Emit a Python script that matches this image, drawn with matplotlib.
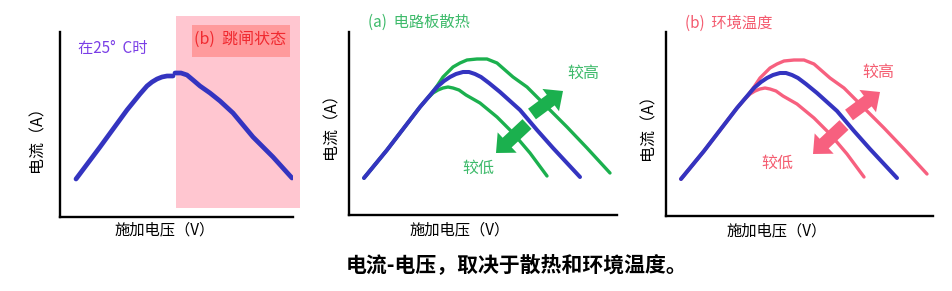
import matplotlib
matplotlib.use("Agg")
import matplotlib.pyplot as plt
from matplotlib.patches import Rectangle, FancyArrowPatch

plt.rcParams['font.family'] = ['Noto Sans CJK SC', 'DejaVu Sans']

# ---- data (arbitrary units: voltage along x, current along y) ----
# panel 1: single I-V curve at 25 °C, split into normal and tripping regions
v_normal = [16, 40, 67, 80, 87, 92, 97, 102, 107, 113]
i_normal = [38, 70, 107, 123, 131, 135, 138, 140, 141, 141]
v_trip = [115, 121, 127, 133, 140, 150, 160, 173, 193, 213, 232]
i_trip = [144, 144, 142, 137, 131, 124, 116, 104, 80, 60, 39]
trip_region = (116, 240)          # voltage span of the tripping state

# panels 2 and 3: reference curve plus lower / higher variants
v_ref = [15, 38, 71, 88, 95, 101, 107, 114, 120, 126, 132, 140, 151, 171, 188, 204, 231]
i_ref = [37, 65, 108, 128, 134, 138, 141, 143, 143, 141, 138, 132, 123, 105, 85, 67, 38]
v_low = [15, 38, 71, 78, 84, 89, 94, 99, 104, 110, 117, 131, 148, 164, 181, 198]
i_low = [37, 65, 108, 116, 122, 125, 127, 128, 127, 125, 120, 112, 98, 82, 62, 39]
v_high = [15, 38, 71, 82, 88, 94, 99, 104, 111, 118, 128, 138, 143, 148, 156, 164, 178,
          198, 218, 238, 261]
i_high = [37, 65, 108, 121, 129, 138, 143, 148, 152, 155, 156, 156, 154, 152, 145, 138, 128,
          108, 88, 67, 42]

xlabel = "施加电压（V）"
ylabel = "电流（A）"
panel_titles = ["(a)  电路板散热", "(b)  环境温度"]
caption = "电流-电压，取决于散热和环境温度。"

BLUE = "#3434c0"
GREEN = "#1bb04e"
GREEN_T = "#3dba6a"
PINK = "#f7607f"
PINK_T = "#f45c70"

W, H = 952, 291
fig = plt.figure(figsize=(W / 100, H / 100), dpi=100)


def make_axes(left, right, bottom, top):
    ax = fig.add_axes([left / W, (H - bottom) / H, (right - left) / W, (bottom - top) / H])
    ax.set_xlim(0, right - left)
    ax.set_ylim(0, bottom - top)
    for s in ("top", "right"):
        ax.spines[s].set_visible(False)
    for s in ("left", "bottom"):
        ax.spines[s].set_linewidth(1.7)
        ax.spines[s].set_color("black")
    ax.set_xticks([])
    ax.set_yticks([])
    ax.patch.set_alpha(0)
    return ax


# ---- panel 1 ----
ax1 = make_axes(60, 293, 217, 32)
ax1.add_patch(Rectangle((trip_region[0], 9), trip_region[1] - trip_region[0], 192,
                        facecolor="#ffc6d0", edgecolor="none", clip_on=False, zorder=0))
ax1.add_patch(Rectangle((132, 160), 98, 32, facecolor="#ff9a9c", edgecolor="none",
                        clip_on=False, zorder=1))
ax1.text(134, 178, "(b)  跳闸状态", color="#f02a30", fontsize=11.5, va="center", ha="left",
         clip_on=False, zorder=2)
ax1.plot(v_normal, i_normal, color=BLUE, lw=3.4, solid_capstyle="round", zorder=3)
ax1.plot(v_trip, i_trip, color=BLUE, lw=3.4, solid_capstyle="round", zorder=3)
ax1.text(18, 169, "在25°  C时", color="#7a3ee6", fontsize=11, va="center", ha="left")
ax1.text(105, -13, xlabel, fontsize=11, ha="center", va="center", clip_on=False)
ax1.text(-23, 82, ylabel, fontsize=11.5, ha="center", va="center", rotation=90, clip_on=False)


def variant_panel(ax, color, tcolor, title, hi_pos, lo_pos):
    ax.plot(v_low, i_low, color=color, lw=2.4, solid_capstyle="round", zorder=2)
    ax.plot(v_high, i_high, color=color, lw=2.4, solid_capstyle="round", zorder=2)
    ax.plot(v_ref, i_ref, color=BLUE, lw=2.9, solid_capstyle="round", zorder=3)
    style = "simple,head_length=11,head_width=20,tail_width=9.5"
    ax.add_patch(FancyArrowPatch((183, 101), (214, 124), arrowstyle=style, mutation_scale=1,
                                 color=color, shrinkA=0, shrinkB=0, lw=0, zorder=4))
    ax.add_patch(FancyArrowPatch((178, 91), (147, 62), arrowstyle=style, mutation_scale=1,
                                 color=color, shrinkA=0, shrinkB=0, lw=0, zorder=4))
    ax.text(*hi_pos, "较高", color=tcolor, fontsize=11.5, ha="center", va="center")
    ax.text(*lo_pos, "较低", color=tcolor, fontsize=11.5, ha="center", va="center")
    ax.text(19, 193, title, color=tcolor, fontsize=11, ha="left", va="center", clip_on=False)
    ax.text(111, -15, xlabel, fontsize=11, ha="center", va="center", clip_on=False)
    ax.text(-18, 93, ylabel, fontsize=11.5, ha="center", va="center", rotation=90, clip_on=False)


ax2 = make_axes(349, 617, 215, 32)
variant_panel(ax2, GREEN, GREEN_T, panel_titles[0], (234, 142), (129, 47))

ax3 = make_axes(666, 933, 216, 32)
variant_panel(ax3, PINK, PINK_T, panel_titles[1], (212, 144), (111, 53))

fig.text(517 / W, 1 - 266 / H, caption, fontsize=15, fontweight="bold", style="italic",
         ha="center", va="center")

fig.savefig("out.png", dpi=100)
